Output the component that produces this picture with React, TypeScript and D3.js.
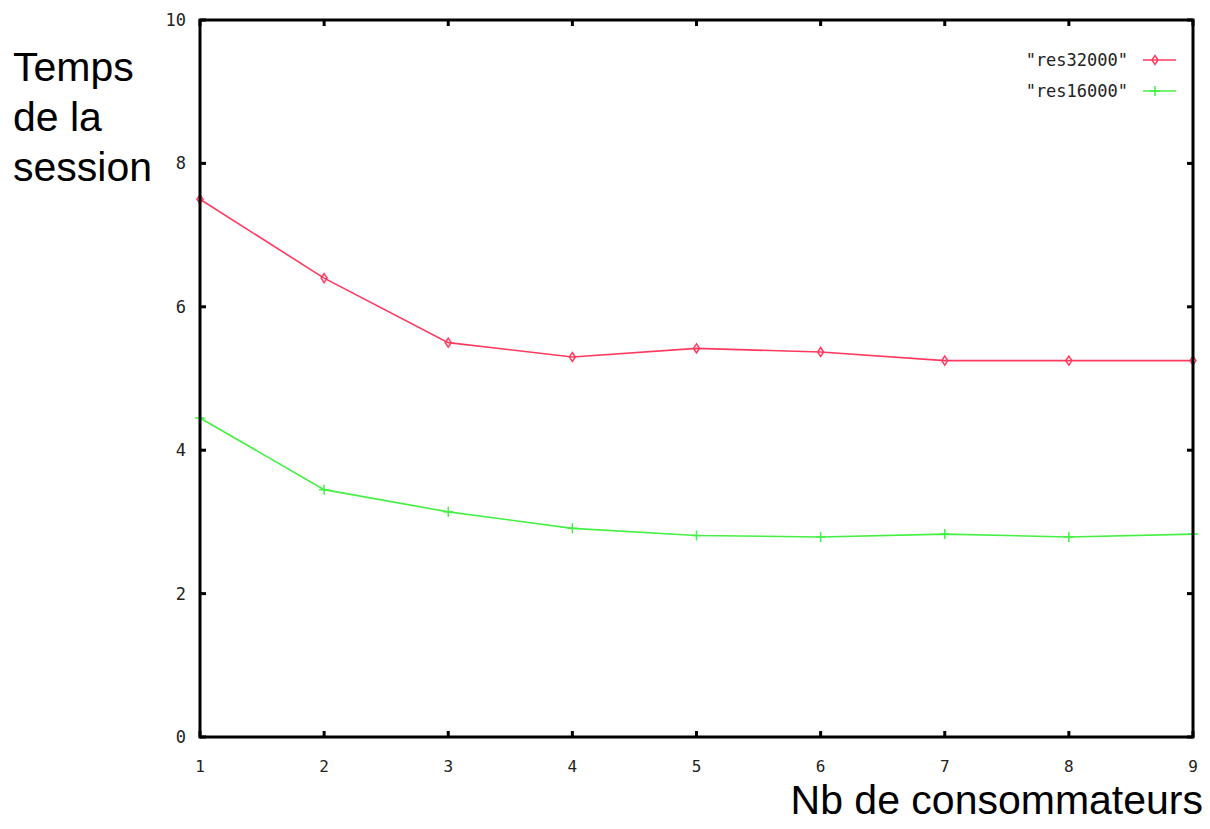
import React from "react";
import * as d3 from "d3";

const consumers = [1, 2, 3, 4, 5, 6, 7, 8, 9];
const res32000 = [7.5, 6.4, 5.5, 5.3, 5.42, 5.37, 5.25, 5.25, 5.25];
const res16000 = [4.45, 3.45, 3.14, 2.91, 2.81, 2.79, 2.83, 2.79, 2.83];
const yTicks = [0, 2, 4, 6, 8, 10];
const xTicks = [1, 2, 3, 4, 5, 6, 7, 8, 9];
const seriesNames = ['"res32000"', '"res16000"'];
const yLabelLines = ["Temps", "de la", "session"];
const xLabel = "Nb de consommateurs";

const W = 1210;
const H = 829;
const left = 200;
const right = 1193;
const top = 20;
const bottom = 737;
const RED = "#ff3a5e";
const GREEN = "#44f044";
const tickFont = "'DejaVu Sans Mono', 'Liberation Mono', monospace";
const labelFont = "'Liberation Sans', Arial, sans-serif";

export default function App() {
  const x = d3.scaleLinear().domain([1, 9]).range([left, right]);
  const y = d3.scaleLinear().domain([0, 10]).range([bottom, top]);
  const line = d3
    .line<number>()
    .x((_, i) => x(consumers[i]))
    .y((d) => y(d));

  const diamond = (cx: number, cy: number, key: string) => (
    <path
      key={key}
      d={`M${cx},${cy - 4.5}L${cx + 3},${cy}L${cx},${cy + 4.5}L${cx - 3},${cy}Z`}
      fill="none"
      stroke={RED}
      strokeWidth={1.5}
    />
  );
  const plus = (cx: number, cy: number, key: string) => (
    <path
      key={key}
      d={`M${cx - 5},${cy}H${cx + 5}M${cx},${cy - 5}V${cy + 5}`}
      fill="none"
      stroke={GREEN}
      strokeWidth={1.5}
    />
  );

  const tl = 6;
  const legendY = [60, 91];
  const sampleX0 = 1143;
  const sampleX1 = 1176;

  return (
    <svg
      width={W}
      height={H}
      style={{ position: "absolute", left: 0, top: 0, background: "#fff" }}
    >
      <rect x={0} y={0} width={W} height={H} fill="#fff" />
      {yTicks.map((t) => (
        <g key={"yt" + t}>
          <line x1={left} x2={left + tl} y1={y(t)} y2={y(t)} stroke="#000" strokeWidth={3} />
          <line x1={right} x2={right - tl} y1={y(t)} y2={y(t)} stroke="#000" strokeWidth={3} />
          <text
            x={186}
            y={y(t)}
            textAnchor="end"
            dominantBaseline="central"
            fontFamily={tickFont}
            fontSize={17}
            fill="#222"
          >
            {t}
          </text>
        </g>
      ))}
      {xTicks.map((t) => (
        <g key={"xt" + t}>
          <line x1={x(t)} x2={x(t)} y1={bottom} y2={bottom - tl} stroke="#000" strokeWidth={3} />
          <line x1={x(t)} x2={x(t)} y1={top} y2={top + tl} stroke="#000" strokeWidth={3} />
          <text
            x={x(t)}
            y={766}
            textAnchor="middle"
            dominantBaseline="central"
            fontFamily={tickFont}
            fontSize={16}
            fill="#222"
          >
            {t}
          </text>
        </g>
      ))}
      <path d={line(res32000) || ""} fill="none" stroke={RED} strokeWidth={1.6} />
      <path d={line(res16000) || ""} fill="none" stroke={GREEN} strokeWidth={1.6} />
      {res32000.map((v, i) => diamond(x(consumers[i]), y(v), "r" + i))}
      {res16000.map((v, i) => plus(x(consumers[i]), y(v), "g" + i))}
      <rect
        x={left}
        y={top}
        width={right - left}
        height={bottom - top}
        fill="none"
        stroke="#000"
        strokeWidth={3}
      />
      {seriesNames.map((n, i) => (
        <g key={"lg" + i}>
          <text
            x={1128}
            y={legendY[i]}
            textAnchor="end"
            dominantBaseline="central"
            fontFamily={tickFont}
            fontSize={17}
            fill="#222"
          >
            {n}
          </text>
          <line
            x1={sampleX0}
            x2={sampleX1}
            y1={legendY[i]}
            y2={legendY[i]}
            stroke={i === 0 ? RED : GREEN}
            strokeWidth={1.6}
          />
          {i === 0 ? diamond(1155, legendY[i], "ld") : plus(1155, legendY[i], "lp")}
        </g>
      ))}
      {yLabelLines.map((s, i) => (
        <text
          key={"yl" + i}
          x={13}
          y={81 + i * 50}
          fontFamily={labelFont}
          fontSize={41}
          fill="#000"
        >
          {s}
        </text>
      ))}
      <text
        x={1203}
        y={814}
        textAnchor="end"
        fontFamily={labelFont}
        fontSize={41}
        fill="#000"
      >
        {xLabel}
      </text>
    </svg>
  );
}
